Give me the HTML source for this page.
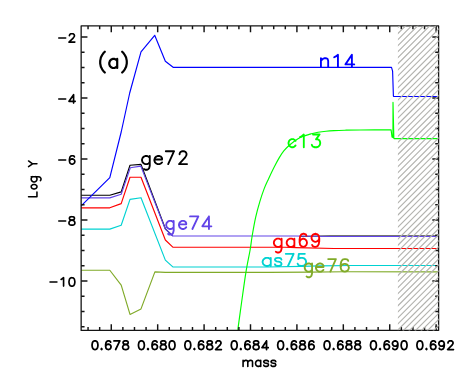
<!DOCTYPE html>
<html><head><meta charset="utf-8"><title>plot</title>
<style>html,body{margin:0;padding:0;background:#fff;font-family:"Liberation Sans",sans-serif;}svg{display:block}</style>
</head><body>
<svg width="463" height="382" viewBox="0 0 463 382">
<rect x="0" y="0" width="463" height="382" fill="#ffffff"/>
<defs><clipPath id="hc"><rect x="397.90" y="25.80" width="40.85" height="304.75"/></clipPath></defs>
<path d="M81.15 195.20 L109.80 195.20 L121.20 191.90 L130.00 165.25 L141.00 164.40 L165.35 228.80 L172.80 235.90" stroke="#000000" stroke-width="1.15" fill="none" stroke-linejoin="round" stroke-linecap="butt"/>
<path d="M300.00 236.40 L330.00 235.90 L438.60 235.90" stroke="#000000" stroke-width="0.90" fill="none" stroke-linejoin="round" stroke-linecap="butt"/>
<path d="M81.15 197.85 L109.80 197.85 L121.20 194.20 L130.30 167.75 L140.80 166.10 L165.35 229.20 L172.80 236.00 L295.00 236.00 L330.00 236.50 L438.60 236.45" stroke="#6244e8" stroke-width="1.15" fill="none" stroke-linejoin="round" stroke-linecap="butt"/>
<path d="M81.15 207.80 L109.80 207.80 L121.20 203.60 L130.00 177.20 L141.00 177.20 L165.35 240.00 L172.80 247.20 L285.00 247.20 L296.00 247.60 L334.00 248.45 L345.00 248.55 L438.60 248.50" stroke="#ff0000" stroke-width="1.15" fill="none" stroke-linejoin="round" stroke-linecap="butt"/>
<path d="M81.15 229.10 L109.80 229.10 L121.20 225.20 L130.00 199.40 L141.00 197.70 L165.35 260.10 L172.80 266.95 L268.00 266.95 L301.00 266.40 L320.00 265.90 L352.00 265.55 L438.60 265.50" stroke="#00d2d2" stroke-width="1.15" fill="none" stroke-linejoin="round" stroke-linecap="butt"/>
<path d="M81.15 270.25 L109.80 270.25 L121.20 285.10 L130.00 314.40 L141.00 308.90 L154.90 271.85 L165.35 272.40 L268.00 272.40 L310.00 272.10 L345.00 271.80 L438.60 271.80" stroke="#80aa28" stroke-width="1.15" fill="none" stroke-linejoin="round" stroke-linecap="butt"/>
<path d="M237.80 329.80 C238.42 325.33 240.14 312.62 241.50 303.00 C242.86 293.38 244.52 280.93 245.95 272.10 C247.38 263.27 249.07 256.02 250.10 250.00 C251.13 243.98 251.22 241.48 252.15 236.00 C253.08 230.52 254.41 222.87 255.70 217.10 C256.99 211.33 258.50 206.11 259.90 201.40 C261.30 196.69 262.67 192.60 264.10 188.85 C265.53 185.10 266.83 182.51 268.50 178.90 C270.17 175.29 272.30 170.75 274.10 167.20 C275.90 163.65 277.65 160.35 279.30 157.60 C280.95 154.85 282.28 152.80 284.00 150.70 C285.72 148.60 287.33 146.97 289.60 145.00 C291.87 143.03 295.00 140.47 297.60 138.90 C300.20 137.33 302.93 136.45 305.20 135.60 C307.47 134.75 309.07 134.35 311.20 133.80 C313.33 133.25 315.53 132.73 318.00 132.30 C320.47 131.87 323.33 131.48 326.00 131.20 C328.67 130.92 330.83 130.77 334.00 130.60 C337.17 130.43 340.67 130.31 345.00 130.20 C349.33 130.09 352.32 130.00 360.00 129.95 C367.68 129.90 385.92 129.91 391.10 129.90 L392.05 137.1 L392.95 137.6 L393.0 102.4 L393.85 138.2 L394.2 138.6 L438.60 138.6" stroke="#00ff00" stroke-width="1.15" fill="none" stroke-linejoin="round"/>
<path d="M81.15 205.90 L109.80 177.70 L121.20 132.00 L129.70 93.00 L141.00 51.80 L154.70 35.30 L165.35 61.30 L173.10 67.30 L391.50 67.30 L392.60 71.20 L393.40 95.90 L393.70 96.45 L438.60 96.45" stroke="#0000ff" stroke-width="1.15" fill="none" stroke-linejoin="round" stroke-linecap="butt"/>
<path d="M88.06 330.45 V327.05 M88.06 25.90 V29.30 M99.67 330.45 V327.05 M99.67 25.90 V29.30 M111.27 330.45 V324.15 M111.27 25.90 V32.20 M122.87 330.45 V327.05 M122.87 25.90 V29.30 M134.48 330.45 V327.05 M134.48 25.90 V29.30 M146.08 330.45 V327.05 M146.08 25.90 V29.30 M157.68 330.45 V324.15 M157.68 25.90 V32.20 M169.28 330.45 V327.05 M169.28 25.90 V29.30 M180.89 330.45 V327.05 M180.89 25.90 V29.30 M192.49 330.45 V327.05 M192.49 25.90 V29.30 M204.09 330.45 V324.15 M204.09 25.90 V32.20 M215.69 330.45 V327.05 M215.69 25.90 V29.30 M227.30 330.45 V327.05 M227.30 25.90 V29.30 M238.90 330.45 V327.05 M238.90 25.90 V29.30 M250.50 330.45 V324.15 M250.50 25.90 V32.20 M262.10 330.45 V327.05 M262.10 25.90 V29.30 M273.71 330.45 V327.05 M273.71 25.90 V29.30 M285.31 330.45 V327.05 M285.31 25.90 V29.30 M296.91 330.45 V324.15 M296.91 25.90 V32.20 M308.51 330.45 V327.05 M308.51 25.90 V29.30 M320.12 330.45 V327.05 M320.12 25.90 V29.30 M331.72 330.45 V327.05 M331.72 25.90 V29.30 M343.32 330.45 V324.15 M343.32 25.90 V32.20 M354.92 330.45 V327.05 M354.92 25.90 V29.30 M366.53 330.45 V327.05 M366.53 25.90 V29.30 M378.13 330.45 V327.05 M378.13 25.90 V29.30 M389.73 330.45 V324.15 M389.73 25.90 V32.20 M401.33 330.45 V327.05 M401.33 25.90 V29.30 M412.94 330.45 V327.05 M412.94 25.90 V29.30 M424.54 330.45 V327.05 M424.54 25.90 V29.30 M436.14 330.45 V324.15 M436.14 25.90 V32.20 M81.15 37.00 H87.45 M438.60 37.00 H432.30 M81.15 52.25 H84.55 M438.60 52.25 H435.20 M81.15 67.50 H84.55 M438.60 67.50 H435.20 M81.15 82.75 H84.55 M438.60 82.75 H435.20 M81.15 98.00 H87.45 M438.60 98.00 H432.30 M81.15 113.25 H84.55 M438.60 113.25 H435.20 M81.15 128.50 H84.55 M438.60 128.50 H435.20 M81.15 143.75 H84.55 M438.60 143.75 H435.20 M81.15 159.00 H87.45 M438.60 159.00 H432.30 M81.15 174.25 H84.55 M438.60 174.25 H435.20 M81.15 189.50 H84.55 M438.60 189.50 H435.20 M81.15 204.75 H84.55 M438.60 204.75 H435.20 M81.15 220.00 H87.45 M438.60 220.00 H432.30 M81.15 235.25 H84.55 M438.60 235.25 H435.20 M81.15 250.50 H84.55 M438.60 250.50 H435.20 M81.15 265.75 H84.55 M438.60 265.75 H435.20 M81.15 281.00 H87.45 M438.60 281.00 H432.30 M81.15 296.25 H84.55 M438.60 296.25 H435.20 M81.15 311.50 H84.55 M438.60 311.50 H435.20 M81.15 326.75 H84.55 M438.60 326.75 H435.20" stroke="#141414" stroke-width="1.45" fill="none"/>
<rect x="81.15" y="25.90" width="357.45" height="304.55" fill="none" stroke="#141414" stroke-width="1.30" stroke-linejoin="round"/>
<path d="M396.90 -56.25 L439.60 -98.95 M396.90 -50.20 L439.60 -92.90 M396.90 -44.15 L439.60 -86.85 M396.90 -38.10 L439.60 -80.80 M396.90 -32.05 L439.60 -74.75 M396.90 -26.00 L439.60 -68.70 M396.90 -19.95 L439.60 -62.65 M396.90 -13.90 L439.60 -56.60 M396.90 -7.85 L439.60 -50.55 M396.90 -1.80 L439.60 -44.50 M396.90 4.25 L439.60 -38.45 M396.90 10.30 L439.60 -32.40 M396.90 16.35 L439.60 -26.35 M396.90 22.40 L439.60 -20.30 M396.90 28.45 L439.60 -14.25 M396.90 34.50 L439.60 -8.20 M396.90 40.55 L439.60 -2.15 M396.90 46.60 L439.60 3.90 M396.90 52.65 L439.60 9.95 M396.90 58.70 L439.60 16.00 M396.90 64.75 L439.60 22.05 M396.90 70.80 L439.60 28.10 M396.90 76.85 L439.60 34.15 M396.90 82.90 L439.60 40.20 M396.90 88.95 L439.60 46.25 M396.90 95.00 L439.60 52.30 M396.90 101.05 L439.60 58.35 M396.90 107.10 L439.60 64.40 M396.90 113.15 L439.60 70.45 M396.90 119.20 L439.60 76.50 M396.90 125.25 L439.60 82.55 M396.90 131.30 L439.60 88.60 M396.90 137.35 L439.60 94.65 M396.90 143.40 L439.60 100.70 M396.90 149.45 L439.60 106.75 M396.90 155.50 L439.60 112.80 M396.90 161.55 L439.60 118.85 M396.90 167.60 L439.60 124.90 M396.90 173.65 L439.60 130.95 M396.90 179.70 L439.60 137.00 M396.90 185.75 L439.60 143.05 M396.90 191.80 L439.60 149.10 M396.90 197.85 L439.60 155.15 M396.90 203.90 L439.60 161.20 M396.90 209.95 L439.60 167.25 M396.90 216.00 L439.60 173.30 M396.90 222.05 L439.60 179.35 M396.90 228.10 L439.60 185.40 M396.90 234.15 L439.60 191.45 M396.90 240.20 L439.60 197.50 M396.90 246.25 L439.60 203.55 M396.90 252.30 L439.60 209.60 M396.90 258.35 L439.60 215.65 M396.90 264.40 L439.60 221.70 M396.90 270.45 L439.60 227.75 M396.90 276.50 L439.60 233.80 M396.90 282.55 L439.60 239.85 M396.90 288.60 L439.60 245.90 M396.90 294.65 L439.60 251.95 M396.90 300.70 L439.60 258.00 M396.90 306.75 L439.60 264.05 M396.90 312.80 L439.60 270.10 M396.90 318.85 L439.60 276.15 M396.90 324.90 L439.60 282.20 M396.90 330.95 L439.60 288.25 M396.90 337.00 L439.60 294.30 M396.90 343.05 L439.60 300.35 M396.90 349.10 L439.60 306.40 M396.90 355.15 L439.60 312.45 M396.90 361.20 L439.60 318.50 M396.90 367.25 L439.60 324.55 M396.90 373.30 L439.60 330.60 M396.90 379.35 L439.60 336.65" stroke="#b2b2ae" stroke-width="1.15" fill="none" clip-path="url(#hc)"/>
<path d="M58.79 38.02 L65.67 38.02 M69.42 35.70 L69.42 35.30 L69.84 34.50 L70.25 34.10 L71.09 33.70 L72.76 33.70 L73.59 34.10 L74.01 34.50 L74.42 35.30 L74.42 36.10 L74.01 36.90 L73.17 38.10 L69.00 42.10 L74.84 42.10" stroke="#000000" stroke-width="1.65" fill="none" stroke-linecap="round" stroke-linejoin="round"/>
<path d="M58.79 99.02 L65.67 99.02 M73.59 94.70 L69.00 101.30 L75.26 101.30 M73.59 94.70 L73.59 103.10" stroke="#000000" stroke-width="1.65" fill="none" stroke-linecap="round" stroke-linejoin="round"/>
<path d="M58.79 160.02 L65.67 160.02 M74.42 156.90 L74.01 156.10 L72.76 155.70 L71.92 155.70 L70.67 156.10 L69.84 157.30 L69.42 159.30 L69.42 161.30 L69.84 162.90 L70.67 163.70 L71.92 164.10 L72.34 164.10 L73.59 163.70 L74.42 162.90 L74.84 161.70 L74.84 161.30 L74.42 160.10 L73.59 159.30 L72.34 158.90 L71.92 158.90 L70.67 159.30 L69.84 160.10 L69.42 161.30" stroke="#000000" stroke-width="1.65" fill="none" stroke-linecap="round" stroke-linejoin="round"/>
<path d="M58.79 221.02 L65.67 221.02 M71.09 216.70 L69.84 217.10 L69.42 217.90 L69.42 218.70 L69.84 219.50 L70.67 219.90 L72.34 220.30 L73.59 220.70 L74.42 221.50 L74.84 222.30 L74.84 223.50 L74.42 224.30 L74.01 224.70 L72.76 225.10 L71.09 225.10 L69.84 224.70 L69.42 224.30 L69.00 223.50 L69.00 222.30 L69.42 221.50 L70.25 220.70 L71.50 220.30 L73.17 219.90 L74.01 219.50 L74.42 218.70 L74.42 217.90 L74.01 217.10 L72.76 216.70 L71.09 216.70" stroke="#000000" stroke-width="1.65" fill="none" stroke-linecap="round" stroke-linejoin="round"/>
<path d="M50.03 282.02 L56.91 282.02 M61.08 279.42 L62.16 278.78 L63.58 277.70 L63.58 286.10 M71.50 277.70 L70.25 278.10 L69.42 279.30 L69.00 281.30 L69.00 282.50 L69.42 284.50 L70.25 285.70 L71.50 286.10 L72.34 286.10 L73.59 285.70 L74.42 284.50 L74.84 282.50 L74.84 281.30 L74.42 279.30 L73.59 278.10 L72.34 277.70 L71.50 277.70" stroke="#000000" stroke-width="1.65" fill="none" stroke-linecap="round" stroke-linejoin="round"/>
<path d="M94.58 340.89 L93.33 341.30 L92.49 342.53 L92.08 344.58 L92.08 345.81 L92.49 347.86 L93.33 349.09 L94.58 349.50 L95.41 349.50 L96.66 349.09 L97.50 347.86 L97.91 345.81 L97.91 344.58 L97.50 342.53 L96.66 341.30 L95.41 340.89 L94.58 340.89 M101.56 348.68 L101.15 349.09 L101.56 349.50 L101.98 349.09 L101.56 348.68 M110.63 342.12 L110.22 341.30 L108.96 340.89 L108.13 340.89 L106.88 341.30 L106.05 342.53 L105.63 344.58 L105.63 346.63 L106.05 348.27 L106.88 349.09 L108.13 349.50 L108.55 349.50 L109.80 349.09 L110.63 348.27 L111.05 347.04 L111.05 346.63 L110.63 345.40 L109.80 344.58 L108.55 344.17 L108.13 344.17 L106.88 344.58 L106.05 345.40 L105.63 346.63 M119.81 340.89 L115.64 349.50 M113.97 340.89 L119.81 340.89 M124.81 340.89 L123.56 341.30 L123.14 342.12 L123.14 342.94 L123.56 343.76 L124.39 344.17 L126.06 344.58 L127.31 344.99 L128.15 345.81 L128.56 346.63 L128.56 347.86 L128.15 348.68 L127.73 349.09 L126.48 349.50 L124.81 349.50 L123.56 349.09 L123.14 348.68 L122.73 347.86 L122.73 346.63 L123.14 345.81 L123.98 344.99 L125.23 344.58 L126.90 344.17 L127.73 343.76 L128.15 342.94 L128.15 342.12 L127.73 341.30 L126.48 340.89 L124.81 340.89" stroke="#000000" stroke-width="1.75" fill="none" stroke-linecap="round" stroke-linejoin="round"/>
<path d="M140.99 340.89 L139.74 341.30 L138.90 342.53 L138.49 344.58 L138.49 345.81 L138.90 347.86 L139.74 349.09 L140.99 349.50 L141.82 349.50 L143.07 349.09 L143.91 347.86 L144.32 345.81 L144.32 344.58 L143.91 342.53 L143.07 341.30 L141.82 340.89 L140.99 340.89 M147.97 348.68 L147.56 349.09 L147.97 349.50 L148.39 349.09 L147.97 348.68 M157.04 342.12 L156.63 341.30 L155.37 340.89 L154.54 340.89 L153.29 341.30 L152.46 342.53 L152.04 344.58 L152.04 346.63 L152.46 348.27 L153.29 349.09 L154.54 349.50 L154.96 349.50 L156.21 349.09 L157.04 348.27 L157.46 347.04 L157.46 346.63 L157.04 345.40 L156.21 344.58 L154.96 344.17 L154.54 344.17 L153.29 344.58 L152.46 345.40 L152.04 346.63 M162.46 340.89 L161.21 341.30 L160.80 342.12 L160.80 342.94 L161.21 343.76 L162.05 344.17 L163.71 344.58 L164.97 344.99 L165.80 345.81 L166.22 346.63 L166.22 347.86 L165.80 348.68 L165.38 349.09 L164.13 349.50 L162.46 349.50 L161.21 349.09 L160.80 348.68 L160.38 347.86 L160.38 346.63 L160.80 345.81 L161.63 344.99 L162.88 344.58 L164.55 344.17 L165.38 343.76 L165.80 342.94 L165.80 342.12 L165.38 341.30 L164.13 340.89 L162.46 340.89 M171.64 340.89 L170.39 341.30 L169.55 342.53 L169.14 344.58 L169.14 345.81 L169.55 347.86 L170.39 349.09 L171.64 349.50 L172.47 349.50 L173.72 349.09 L174.56 347.86 L174.97 345.81 L174.97 344.58 L174.56 342.53 L173.72 341.30 L172.47 340.89 L171.64 340.89" stroke="#000000" stroke-width="1.75" fill="none" stroke-linecap="round" stroke-linejoin="round"/>
<path d="M187.40 340.89 L186.15 341.30 L185.31 342.53 L184.90 344.58 L184.90 345.81 L185.31 347.86 L186.15 349.09 L187.40 349.50 L188.23 349.50 L189.48 349.09 L190.32 347.86 L190.73 345.81 L190.73 344.58 L190.32 342.53 L189.48 341.30 L188.23 340.89 L187.40 340.89 M194.38 348.68 L193.97 349.09 L194.38 349.50 L194.80 349.09 L194.38 348.68 M203.45 342.12 L203.04 341.30 L201.78 340.89 L200.95 340.89 L199.70 341.30 L198.87 342.53 L198.45 344.58 L198.45 346.63 L198.87 348.27 L199.70 349.09 L200.95 349.50 L201.37 349.50 L202.62 349.09 L203.45 348.27 L203.87 347.04 L203.87 346.63 L203.45 345.40 L202.62 344.58 L201.37 344.17 L200.95 344.17 L199.70 344.58 L198.87 345.40 L198.45 346.63 M208.87 340.89 L207.62 341.30 L207.21 342.12 L207.21 342.94 L207.62 343.76 L208.46 344.17 L210.12 344.58 L211.38 344.99 L212.21 345.81 L212.63 346.63 L212.63 347.86 L212.21 348.68 L211.79 349.09 L210.54 349.50 L208.87 349.50 L207.62 349.09 L207.21 348.68 L206.79 347.86 L206.79 346.63 L207.21 345.81 L208.04 344.99 L209.29 344.58 L210.96 344.17 L211.79 343.76 L212.21 342.94 L212.21 342.12 L211.79 341.30 L210.54 340.89 L208.87 340.89 M215.96 342.94 L215.96 342.53 L216.38 341.71 L216.80 341.30 L217.63 340.89 L219.30 340.89 L220.13 341.30 L220.55 341.71 L220.97 342.53 L220.97 343.35 L220.55 344.17 L219.72 345.40 L215.55 349.50 L221.38 349.50" stroke="#000000" stroke-width="1.75" fill="none" stroke-linecap="round" stroke-linejoin="round"/>
<path d="M233.81 340.89 L232.56 341.30 L231.72 342.53 L231.31 344.58 L231.31 345.81 L231.72 347.86 L232.56 349.09 L233.81 349.50 L234.64 349.50 L235.89 349.09 L236.73 347.86 L237.14 345.81 L237.14 344.58 L236.73 342.53 L235.89 341.30 L234.64 340.89 L233.81 340.89 M240.79 348.68 L240.38 349.09 L240.79 349.50 L241.21 349.09 L240.79 348.68 M249.86 342.12 L249.45 341.30 L248.19 340.89 L247.36 340.89 L246.11 341.30 L245.28 342.53 L244.86 344.58 L244.86 346.63 L245.28 348.27 L246.11 349.09 L247.36 349.50 L247.78 349.50 L249.03 349.09 L249.86 348.27 L250.28 347.04 L250.28 346.63 L249.86 345.40 L249.03 344.58 L247.78 344.17 L247.36 344.17 L246.11 344.58 L245.28 345.40 L244.86 346.63 M255.28 340.89 L254.03 341.30 L253.62 342.12 L253.62 342.94 L254.03 343.76 L254.87 344.17 L256.53 344.58 L257.79 344.99 L258.62 345.81 L259.04 346.63 L259.04 347.86 L258.62 348.68 L258.20 349.09 L256.95 349.50 L255.28 349.50 L254.03 349.09 L253.62 348.68 L253.20 347.86 L253.20 346.63 L253.62 345.81 L254.45 344.99 L255.70 344.58 L257.37 344.17 L258.20 343.76 L258.62 342.94 L258.62 342.12 L258.20 341.30 L256.95 340.89 L255.28 340.89 M266.54 340.89 L261.96 347.65 L268.21 347.65 M266.54 340.89 L266.54 349.50" stroke="#000000" stroke-width="1.75" fill="none" stroke-linecap="round" stroke-linejoin="round"/>
<path d="M280.22 340.89 L278.97 341.30 L278.13 342.53 L277.72 344.58 L277.72 345.81 L278.13 347.86 L278.97 349.09 L280.22 349.50 L281.05 349.50 L282.30 349.09 L283.14 347.86 L283.55 345.81 L283.55 344.58 L283.14 342.53 L282.30 341.30 L281.05 340.89 L280.22 340.89 M287.20 348.68 L286.79 349.09 L287.20 349.50 L287.62 349.09 L287.20 348.68 M296.27 342.12 L295.86 341.30 L294.60 340.89 L293.77 340.89 L292.52 341.30 L291.69 342.53 L291.27 344.58 L291.27 346.63 L291.69 348.27 L292.52 349.09 L293.77 349.50 L294.19 349.50 L295.44 349.09 L296.27 348.27 L296.69 347.04 L296.69 346.63 L296.27 345.40 L295.44 344.58 L294.19 344.17 L293.77 344.17 L292.52 344.58 L291.69 345.40 L291.27 346.63 M301.69 340.89 L300.44 341.30 L300.03 342.12 L300.03 342.94 L300.44 343.76 L301.28 344.17 L302.94 344.58 L304.20 344.99 L305.03 345.81 L305.45 346.63 L305.45 347.86 L305.03 348.68 L304.61 349.09 L303.36 349.50 L301.69 349.50 L300.44 349.09 L300.03 348.68 L299.61 347.86 L299.61 346.63 L300.03 345.81 L300.86 344.99 L302.11 344.58 L303.78 344.17 L304.61 343.76 L305.03 342.94 L305.03 342.12 L304.61 341.30 L303.36 340.89 L301.69 340.89 M313.79 342.12 L313.37 341.30 L312.12 340.89 L311.28 340.89 L310.03 341.30 L309.20 342.53 L308.78 344.58 L308.78 346.63 L309.20 348.27 L310.03 349.09 L311.28 349.50 L311.70 349.50 L312.95 349.09 L313.79 348.27 L314.20 347.04 L314.20 346.63 L313.79 345.40 L312.95 344.58 L311.70 344.17 L311.28 344.17 L310.03 344.58 L309.20 345.40 L308.78 346.63" stroke="#000000" stroke-width="1.75" fill="none" stroke-linecap="round" stroke-linejoin="round"/>
<path d="M326.63 340.89 L325.38 341.30 L324.54 342.53 L324.13 344.58 L324.13 345.81 L324.54 347.86 L325.38 349.09 L326.63 349.50 L327.46 349.50 L328.71 349.09 L329.55 347.86 L329.96 345.81 L329.96 344.58 L329.55 342.53 L328.71 341.30 L327.46 340.89 L326.63 340.89 M333.61 348.68 L333.20 349.09 L333.61 349.50 L334.03 349.09 L333.61 348.68 M342.68 342.12 L342.27 341.30 L341.01 340.89 L340.18 340.89 L338.93 341.30 L338.10 342.53 L337.68 344.58 L337.68 346.63 L338.10 348.27 L338.93 349.09 L340.18 349.50 L340.60 349.50 L341.85 349.09 L342.68 348.27 L343.10 347.04 L343.10 346.63 L342.68 345.40 L341.85 344.58 L340.60 344.17 L340.18 344.17 L338.93 344.58 L338.10 345.40 L337.68 346.63 M348.10 340.89 L346.85 341.30 L346.44 342.12 L346.44 342.94 L346.85 343.76 L347.69 344.17 L349.35 344.58 L350.61 344.99 L351.44 345.81 L351.86 346.63 L351.86 347.86 L351.44 348.68 L351.02 349.09 L349.77 349.50 L348.10 349.50 L346.85 349.09 L346.44 348.68 L346.02 347.86 L346.02 346.63 L346.44 345.81 L347.27 344.99 L348.52 344.58 L350.19 344.17 L351.02 343.76 L351.44 342.94 L351.44 342.12 L351.02 341.30 L349.77 340.89 L348.10 340.89 M356.86 340.89 L355.61 341.30 L355.19 342.12 L355.19 342.94 L355.61 343.76 L356.44 344.17 L358.11 344.58 L359.36 344.99 L360.20 345.81 L360.61 346.63 L360.61 347.86 L360.20 348.68 L359.78 349.09 L358.53 349.50 L356.86 349.50 L355.61 349.09 L355.19 348.68 L354.78 347.86 L354.78 346.63 L355.19 345.81 L356.03 344.99 L357.28 344.58 L358.95 344.17 L359.78 343.76 L360.20 342.94 L360.20 342.12 L359.78 341.30 L358.53 340.89 L356.86 340.89" stroke="#000000" stroke-width="1.75" fill="none" stroke-linecap="round" stroke-linejoin="round"/>
<path d="M373.04 340.89 L371.79 341.30 L370.95 342.53 L370.54 344.58 L370.54 345.81 L370.95 347.86 L371.79 349.09 L373.04 349.50 L373.87 349.50 L375.12 349.09 L375.96 347.86 L376.37 345.81 L376.37 344.58 L375.96 342.53 L375.12 341.30 L373.87 340.89 L373.04 340.89 M380.02 348.68 L379.61 349.09 L380.02 349.50 L380.44 349.09 L380.02 348.68 M389.09 342.12 L388.68 341.30 L387.42 340.89 L386.59 340.89 L385.34 341.30 L384.51 342.53 L384.09 344.58 L384.09 346.63 L384.51 348.27 L385.34 349.09 L386.59 349.50 L387.01 349.50 L388.26 349.09 L389.09 348.27 L389.51 347.04 L389.51 346.63 L389.09 345.40 L388.26 344.58 L387.01 344.17 L386.59 344.17 L385.34 344.58 L384.51 345.40 L384.09 346.63 M397.85 343.76 L397.43 344.99 L396.60 345.81 L395.35 346.22 L394.93 346.22 L393.68 345.81 L392.85 344.99 L392.43 343.76 L392.43 343.35 L392.85 342.12 L393.68 341.30 L394.93 340.89 L395.35 340.89 L396.60 341.30 L397.43 342.12 L397.85 343.76 L397.85 345.81 L397.43 347.86 L396.60 349.09 L395.35 349.50 L394.51 349.50 L393.26 349.09 L392.85 348.27 M403.69 340.89 L402.44 341.30 L401.60 342.53 L401.19 344.58 L401.19 345.81 L401.60 347.86 L402.44 349.09 L403.69 349.50 L404.52 349.50 L405.77 349.09 L406.61 347.86 L407.02 345.81 L407.02 344.58 L406.61 342.53 L405.77 341.30 L404.52 340.89 L403.69 340.89" stroke="#000000" stroke-width="1.75" fill="none" stroke-linecap="round" stroke-linejoin="round"/>
<path d="M419.45 340.89 L418.20 341.30 L417.36 342.53 L416.95 344.58 L416.95 345.81 L417.36 347.86 L418.20 349.09 L419.45 349.50 L420.28 349.50 L421.53 349.09 L422.37 347.86 L422.78 345.81 L422.78 344.58 L422.37 342.53 L421.53 341.30 L420.28 340.89 L419.45 340.89 M426.43 348.68 L426.02 349.09 L426.43 349.50 L426.85 349.09 L426.43 348.68 M435.50 342.12 L435.09 341.30 L433.83 340.89 L433.00 340.89 L431.75 341.30 L430.92 342.53 L430.50 344.58 L430.50 346.63 L430.92 348.27 L431.75 349.09 L433.00 349.50 L433.42 349.50 L434.67 349.09 L435.50 348.27 L435.92 347.04 L435.92 346.63 L435.50 345.40 L434.67 344.58 L433.42 344.17 L433.00 344.17 L431.75 344.58 L430.92 345.40 L430.50 346.63 M444.26 343.76 L443.84 344.99 L443.01 345.81 L441.76 346.22 L441.34 346.22 L440.09 345.81 L439.26 344.99 L438.84 343.76 L438.84 343.35 L439.26 342.12 L440.09 341.30 L441.34 340.89 L441.76 340.89 L443.01 341.30 L443.84 342.12 L444.26 343.76 L444.26 345.81 L443.84 347.86 L443.01 349.09 L441.76 349.50 L440.92 349.50 L439.67 349.09 L439.26 348.27 M448.01 342.94 L448.01 342.53 L448.43 341.71 L448.85 341.30 L449.68 340.89 L451.35 340.89 L452.18 341.30 L452.60 341.71 L453.02 342.53 L453.02 343.35 L452.60 344.17 L451.77 345.40 L447.60 349.50 L453.43 349.50" stroke="#000000" stroke-width="1.75" fill="none" stroke-linecap="round" stroke-linejoin="round"/>
<path d="M243.07 360.38 L243.07 366.40 M243.07 362.10 L244.36 360.81 L245.22 360.38 L246.51 360.38 L247.37 360.81 L247.80 362.10 L247.80 366.40 M247.80 362.10 L249.09 360.81 L249.95 360.38 L251.24 360.38 L252.10 360.81 L252.53 362.10 L252.53 366.40 M260.70 360.38 L260.70 366.40 M260.70 361.67 L259.85 360.81 L258.99 360.38 L257.69 360.38 L256.83 360.81 L255.97 361.67 L255.54 362.96 L255.54 363.82 L255.97 365.11 L256.83 365.97 L257.69 366.40 L258.99 366.40 L259.85 365.97 L260.70 365.11 M268.44 361.67 L268.01 360.81 L266.73 360.38 L265.44 360.38 L264.14 360.81 L263.72 361.67 L264.14 362.53 L265.00 362.96 L267.16 363.39 L268.01 363.82 L268.44 364.68 L268.44 365.11 L268.01 365.97 L266.73 366.40 L265.44 366.40 L264.14 365.97 L263.72 365.11 M275.75 361.67 L275.32 360.81 L274.04 360.38 L272.75 360.38 L271.45 360.81 L271.03 361.67 L271.45 362.53 L272.31 362.96 L274.47 363.39 L275.32 363.82 L275.75 364.68 L275.75 365.11 L275.32 365.97 L274.04 366.40 L272.75 366.40 L271.45 365.97 L271.03 365.11" stroke="#000000" stroke-width="1.60" fill="none" stroke-linecap="round" stroke-linejoin="round"/>
<path d="M-196.82 -8.40 L-196.82 0.00 M-196.82 0.00 L-191.97 0.00 M-187.21 -5.74 L-187.90 -5.33 L-188.58 -4.51 L-188.93 -3.28 L-188.93 -2.46 L-188.58 -1.23 L-187.90 -0.41 L-187.21 0.00 L-186.19 0.00 L-185.50 -0.41 L-184.82 -1.23 L-184.47 -2.46 L-184.47 -3.28 L-184.82 -4.51 L-185.50 -5.33 L-186.19 -5.74 L-187.21 -5.74 M-176.67 -5.74 L-176.67 1.15 L-177.12 2.87 L-177.56 3.44 L-178.44 4.02 L-179.77 4.02 L-180.65 3.44 M-176.67 -4.51 L-177.56 -5.33 L-178.44 -5.74 L-179.77 -5.74 L-180.65 -5.33 L-181.53 -4.51 L-181.97 -3.28 L-181.97 -2.46 L-181.53 -1.23 L-180.65 -0.41 L-179.77 0.00 L-178.44 0.00 L-177.56 -0.41 L-176.67 -1.23 M-166.67 -8.40 L-163.82 -4.40 L-163.82 0.00 M-160.97 -8.40 L-163.82 -4.40" stroke="#000000" stroke-width="1.55" fill="none" stroke-linecap="round" stroke-linejoin="round" transform="translate(36.95 0) rotate(-90)"/>
<path d="M104.83 51.75 L103.50 53.05 L102.19 55.00 L100.87 57.60 L100.20 60.85 L100.20 63.45 L100.87 66.70 L102.19 69.30 L103.50 71.25 L104.83 72.55 M117.20 58.90 L117.20 68.00 M117.20 60.85 L115.88 59.55 L114.56 58.90 L112.58 58.90 L111.26 59.55 L109.94 60.85 L109.28 62.80 L109.28 64.10 L109.94 66.05 L111.26 67.35 L112.58 68.00 L114.56 68.00 L115.88 67.35 L117.20 66.05 M122.15 51.75 L123.47 53.05 L124.79 55.00 L126.11 57.60 L126.77 60.85 L126.77 63.45 L126.11 66.70 L124.79 69.30 L123.47 71.25 L122.15 72.55" stroke="#000000" stroke-width="2.20" fill="none" stroke-linecap="round" stroke-linejoin="round"/>
<path d="M320.93 58.25 L320.93 67.00 M320.93 60.75 L322.90 58.88 L324.22 58.25 L326.20 58.25 L327.52 58.88 L328.18 60.75 L328.18 67.00 M334.18 57.31 L335.82 56.39 L337.96 54.82 L337.96 67.00 M351.89 54.82 L345.43 64.39 L354.24 64.39 M351.89 54.82 L351.89 67.00" stroke="#0000ff" stroke-width="1.85" fill="none" stroke-linecap="round" stroke-linejoin="round"/>
<path d="M295.57 140.87 L294.40 139.71 L293.23 139.13 L291.46 139.13 L290.29 139.71 L289.11 140.87 L288.53 142.61 L288.53 143.77 L289.11 145.51 L290.29 146.67 L291.46 147.25 L293.23 147.25 L294.40 146.67 L295.57 145.51 M300.02 137.15 L301.66 136.18 L303.80 134.54 L303.80 147.25 M313.02 134.54 L319.58 134.54 L316.00 139.38 L317.79 139.38 L318.98 139.99 L319.58 140.59 L320.18 142.41 L320.18 143.62 L319.58 145.44 L318.39 146.65 L316.60 147.25 L314.81 147.25 L313.02 146.65 L312.42 146.04 L311.82 144.83" stroke="#00ff00" stroke-width="1.85" fill="none" stroke-linecap="round" stroke-linejoin="round"/>
<path d="M149.77 155.98 L149.77 165.72 L149.13 168.16 L148.48 168.97 L147.19 169.78 L145.25 169.78 L143.96 168.97 M149.77 157.72 L148.48 156.56 L147.19 155.98 L145.25 155.98 L143.96 156.56 L142.67 157.72 L142.02 159.46 L142.02 160.62 L142.67 162.36 L143.96 163.52 L145.25 164.10 L147.19 164.10 L148.48 163.52 L149.77 162.36 M154.38 159.46 L162.07 159.46 L162.07 158.30 L161.43 157.14 L160.79 156.56 L159.51 155.98 L157.58 155.98 L156.30 156.56 L155.02 157.72 L154.38 159.46 L154.38 160.62 L155.02 162.36 L156.30 163.52 L157.58 164.10 L159.51 164.10 L160.79 163.52 L162.07 162.36 M174.07 151.23 L168.18 164.10 M165.82 151.23 L174.07 151.23 M179.60 154.29 L179.60 153.68 L180.18 152.45 L180.75 151.84 L181.90 151.23 L184.20 151.23 L185.35 151.84 L185.93 152.45 L186.50 153.68 L186.50 154.91 L185.93 156.13 L184.78 157.97 L179.03 164.10 L187.08 164.10" stroke="#000000" stroke-width="1.85" fill="none" stroke-linecap="round" stroke-linejoin="round"/>
<path d="M173.67 220.88 L173.67 230.62 L173.05 233.06 L172.43 233.87 L171.19 234.68 L169.33 234.68 L168.09 233.87 M173.67 222.62 L172.43 221.46 L171.19 220.88 L169.33 220.88 L168.09 221.46 L166.85 222.62 L166.22 224.36 L166.22 225.52 L166.85 227.26 L168.09 228.42 L169.33 229.00 L171.19 229.00 L172.43 228.42 L173.67 227.26 M178.99 224.36 L186.23 224.36 L186.23 223.20 L185.62 222.04 L185.02 221.46 L183.81 220.88 L182.00 220.88 L180.80 221.46 L179.59 222.62 L178.99 224.36 L178.99 225.52 L179.59 227.26 L180.80 228.42 L182.00 229.00 L183.81 229.00 L185.02 228.42 L186.23 227.26 M198.33 216.40 L192.40 229.00 M190.03 216.40 L198.33 216.40 M208.96 216.40 L202.33 226.30 L211.38 226.30 M208.96 216.40 L208.96 229.00" stroke="#6244e8" stroke-width="1.85" fill="none" stroke-linecap="round" stroke-linejoin="round"/>
<path d="M281.62 238.68 L281.62 248.42 L280.98 250.86 L280.33 251.67 L279.04 252.48 L277.10 252.48 L275.81 251.67 M281.62 240.42 L280.33 239.26 L279.04 238.68 L277.10 238.68 L275.81 239.26 L274.52 240.42 L273.88 242.16 L273.88 243.32 L274.52 245.06 L275.81 246.22 L277.10 246.80 L279.04 246.80 L280.33 246.22 L281.62 245.06 M294.38 238.68 L294.38 246.80 M294.38 240.42 L293.10 239.26 L291.82 238.68 L289.90 238.68 L288.62 239.26 L287.34 240.42 L286.70 242.16 L286.70 243.32 L287.34 245.06 L288.62 246.22 L289.90 246.80 L291.82 246.80 L293.10 246.22 L294.38 245.06 M306.41 235.64 L305.84 234.40 L304.14 233.78 L303.00 233.78 L301.30 234.40 L300.16 236.26 L299.60 239.36 L299.60 242.46 L300.16 244.94 L301.30 246.18 L303.00 246.80 L303.57 246.80 L305.27 246.18 L306.41 244.94 L306.97 243.08 L306.97 242.46 L306.41 240.60 L305.27 239.36 L303.57 238.74 L303.00 238.74 L301.30 239.36 L300.16 240.60 L299.60 242.46 M319.27 238.12 L318.68 239.98 L317.49 241.22 L315.70 241.84 L315.10 241.84 L313.31 241.22 L312.12 239.98 L311.52 238.12 L311.52 237.50 L312.12 235.64 L313.31 234.40 L315.10 233.78 L315.70 233.78 L317.49 234.40 L318.68 235.64 L319.27 238.12 L319.27 241.22 L318.68 244.32 L317.49 246.18 L315.70 246.80 L314.51 246.80 L312.72 246.18 L312.12 244.94" stroke="#ff0000" stroke-width="1.85" fill="none" stroke-linecap="round" stroke-linejoin="round"/>
<path d="M270.77 257.88 L270.77 266.00 M270.77 259.62 L269.42 258.46 L268.06 257.88 L266.02 257.88 L264.66 258.46 L263.30 259.62 L262.62 261.36 L262.62 262.52 L263.30 264.26 L264.66 265.42 L266.02 266.00 L268.06 266.00 L269.42 265.42 L270.77 264.26 M281.47 259.62 L280.88 258.46 L279.08 257.88 L277.29 257.88 L275.49 258.46 L274.90 259.62 L275.49 260.78 L276.69 261.36 L279.68 261.94 L280.88 262.52 L281.47 263.68 L281.47 264.26 L280.88 265.42 L279.08 266.00 L277.29 266.00 L275.49 265.42 L274.90 264.26 M293.63 253.82 L288.01 266.00 M285.76 253.82 L293.63 253.82 M304.85 253.82 L298.83 253.82 L298.23 259.04 L298.83 258.46 L300.64 257.88 L302.44 257.88 L304.25 258.46 L305.45 259.62 L306.06 261.36 L306.06 262.52 L305.45 264.26 L304.25 265.42 L302.44 266.00 L300.64 266.00 L298.83 265.42 L298.23 264.84 L297.62 263.68" stroke="#00d2d2" stroke-width="1.85" fill="none" stroke-linecap="round" stroke-linejoin="round"/>
<path d="M312.07 263.48 L312.07 273.22 L311.46 275.66 L310.85 276.47 L309.62 277.28 L307.79 277.28 L306.56 276.47 M312.07 265.22 L310.85 264.06 L309.62 263.48 L307.79 263.48 L306.56 264.06 L305.34 265.22 L304.72 266.96 L304.72 268.12 L305.34 269.86 L306.56 271.02 L307.79 271.60 L309.62 271.60 L310.85 271.02 L312.07 269.86 M315.93 266.96 L323.47 266.96 L323.47 265.80 L322.85 264.64 L322.22 264.06 L320.96 263.48 L319.07 263.48 L317.81 264.06 L316.55 265.22 L315.93 266.96 L315.93 268.12 L316.55 269.86 L317.81 271.02 L319.07 271.60 L320.96 271.60 L322.22 271.02 L323.47 269.86 M335.88 259.11 L330.38 271.60 M328.17 259.11 L335.88 259.11 M348.24 260.89 L347.61 259.70 L345.70 259.11 L344.43 259.11 L342.53 259.70 L341.26 261.49 L340.62 264.46 L340.62 267.44 L341.26 269.81 L342.53 271.00 L344.43 271.60 L345.07 271.60 L346.97 271.00 L348.24 269.81 L348.88 268.03 L348.88 267.44 L348.24 265.65 L346.97 264.46 L345.07 263.87 L344.43 263.87 L342.53 264.46 L341.26 265.65 L340.62 267.44" stroke="#80aa28" stroke-width="1.85" fill="none" stroke-linecap="round" stroke-linejoin="round"/>
</svg>
</body></html>
